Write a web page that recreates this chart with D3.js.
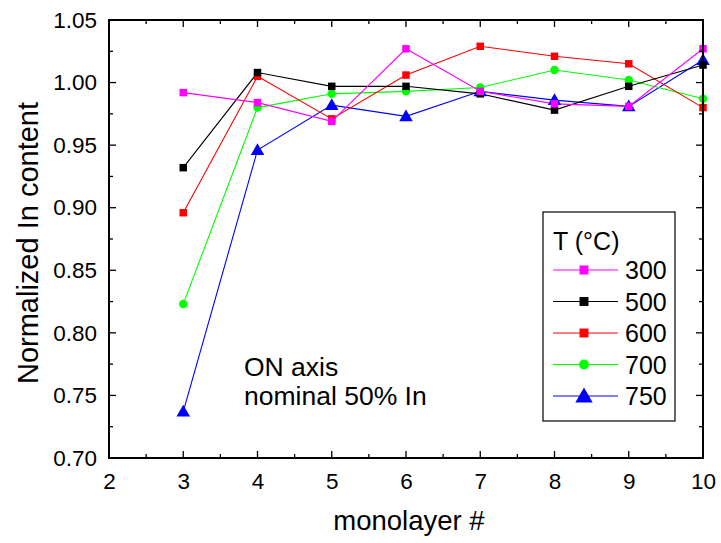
<!DOCTYPE html>
<html>
<head>
<meta charset="utf-8">
<script src="https://cdn.jsdelivr.net/npm/d3@7"></script>
<style>
  body { margin: 0; background: #fff; }
  text { font-family: "Liberation Sans", Arial, sans-serif; }
</style>
</head>
<body>
<svg id="chart" width="721" height="543"></svg>
<script>
// ---- data ----
const monolayers = [3, 4, 5, 6, 7, 8, 9, 10];
const temperatures = ["300", "500", "600", "700", "750"];
const t300 = [0.992, 0.984, 0.969, 1.027, 0.993, 0.983, 0.981, 1.027];
const t500 = [0.932, 1.008, 0.997, 0.997, 0.991, 0.978, 0.997, 1.014];
const t600 = [0.896, 1.005, 0.971, 1.006, 1.029, 1.021, 1.015, 0.980];
const t700 = [0.823, 0.980, 0.991, 0.993, 0.996, 1.010, 1.002, 0.987];
const t750 = [0.737, 0.946, 0.982, 0.973, 0.993, 0.986, 0.981, 1.018];
const xTicks = [2, 3, 4, 5, 6, 7, 8, 9, 10];
const yTicks = [0.70, 0.75, 0.80, 0.85, 0.90, 0.95, 1.00, 1.05];
const xLabel = "monolayer #";
const yLabel = "Normalized In content";
const legendTitle = "T (°C)";
const noteLines = ["ON axis", "nominal 50% In"];

const seriesValues = [t300, t500, t600, t700, t750];
const colors = ["#ff00ff", "#000000", "#ff0000", "#00ff00", "#0000ff"];
const shapes = ["square", "square", "square", "circle", "triangle"];

const series = temperatures.map((t, i) => ({
  name: t, color: colors[i], shape: shapes[i],
  points: monolayers.map((m, j) => ({x: m, y: seriesValues[i][j]}))
}));

// ---- layout ----
const svg = d3.select("#chart");
const L = 109, R = 703, T = 20, B = 458;
const x = d3.scaleLinear().domain([2, 10]).range([L, R]);
const y = d3.scaleLinear().domain([0.70, 1.05]).range([B, T]);

const symSize = {square: 56, circle: 56, triangle: 80};
const symType = {square: d3.symbolSquare, circle: d3.symbolCircle, triangle: d3.symbolTriangle};

// series (reverse order so 300 on top)
const line = d3.line().x(d => x(d.x)).y(d => y(d.y));
const plot = svg.append("g");
series.slice().reverse().forEach(s => {
  plot.append("path").datum(s.points)
    .attr("d", line).attr("fill", "none")
    .attr("stroke", s.color).attr("stroke-width", 1.1);
});
series.slice().reverse().forEach(s => {
  plot.selectAll(null).data(s.points).enter().append("path")
    .attr("transform", d => `translate(${x(d.x)},${y(d.y) + (s.shape === "triangle" ? 1 : 0)})`)
    .attr("d", d3.symbol().type(symType[s.shape]).size(symSize[s.shape]))
    .attr("fill", s.color);
});

// axes
const fs = 22.5;
const axB = d3.axisBottom(x).tickValues(xTicks).tickSize(0).tickPadding(15).tickFormat(d3.format("d"));
const axL = d3.axisLeft(y).tickValues(yTicks).tickSize(0).tickPadding(12).tickFormat(d3.format(".2f"));
const gB = svg.append("g").attr("transform", `translate(0,${B})`).call(axB);
const gL = svg.append("g").attr("transform", `translate(${L},0)`).call(axL);
[gB, gL].forEach(g => {
  g.select(".domain").remove();
  g.selectAll("text").attr("font-size", fs).attr("fill", "#000")
    .attr("font-family", "'Liberation Sans', Arial, sans-serif");
});

// inward ticks on all four sides
const tk = svg.append("g").attr("stroke", "#000").attr("stroke-width", 1.3);
const xMinor = d3.range(2, 10.01, 0.5);
const yMinor = d3.range(0.70, 1.0501, 0.025);
xMinor.forEach(v => {
  const major = Math.abs(v - Math.round(v)) < 1e-6;
  const len = major ? 7 : 4;
  tk.append("line").attr("x1", x(v)).attr("x2", x(v)).attr("y1", B).attr("y2", B - len);
  tk.append("line").attr("x1", x(v)).attr("x2", x(v)).attr("y1", T).attr("y2", T + len);
});
yMinor.forEach((v, i) => {
  const major = i % 2 === 0;
  const len = major ? 7 : 4;
  tk.append("line").attr("x1", L).attr("x2", L + len).attr("y1", y(v)).attr("y2", y(v));
  tk.append("line").attr("x1", R).attr("x2", R - len).attr("y1", y(v)).attr("y2", y(v));
});

// frame
svg.append("rect").attr("x", L).attr("y", T).attr("width", R - L).attr("height", B - T)
  .attr("fill", "none").attr("stroke", "#000").attr("stroke-width", 2);

// axis titles
svg.append("text").attr("x", 409).attr("y", 530).attr("text-anchor", "middle")
  .attr("font-size", 27.5).text(xLabel);
svg.append("text").attr("transform", `translate(38,243) rotate(-90)`)
  .attr("text-anchor", "middle").attr("font-size", 29).text(yLabel);

// note
noteLines.forEach((t, i) => {
  svg.append("text").attr("x", 244).attr("y", 376 + i * 29).attr("font-size", 26.5).text(t);
});

// legend
const lg = svg.append("g");
lg.append("rect").attr("x", 543).attr("y", 212).attr("width", 132).attr("height", 209)
  .attr("fill", "#fff").attr("stroke", "#000").attr("stroke-width", 1.2);
lg.append("text").attr("x", 553).attr("y", 250).attr("font-size", 25).text(legendTitle);
series.forEach((s, i) => {
  const yy = 270 + i * 31.5;
  lg.append("line").attr("x1", 553).attr("x2", 618).attr("y1", yy).attr("y2", yy)
    .attr("stroke", s.color).attr("stroke-width", 1.1);
  lg.append("path").attr("transform", `translate(584,${yy + (s.shape === "triangle" ? 1.5 : 0)})`)
    .attr("d", d3.symbol().type(symType[s.shape]).size(s.shape === "triangle" ? 130 : 80))
    .attr("fill", s.color);
  lg.append("text").attr("x", 625).attr("y", yy + 9).attr("font-size", 25).text(s.name);
});
</script>
</body>
</html>
